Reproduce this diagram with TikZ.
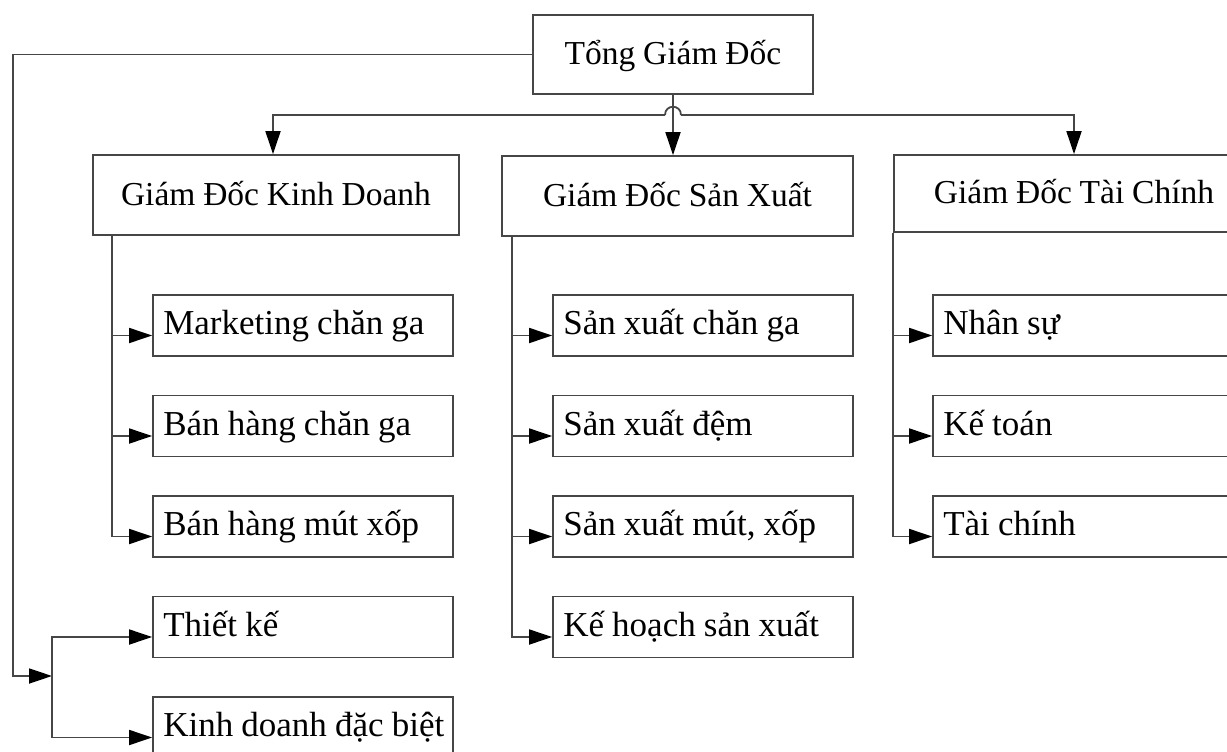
\documentclass[tikz,border=0pt]{standalone}
\usepackage{fontspec}
\setmainfont{Liberation Serif}[WordSpace=0.93]
\usetikzlibrary{arrows.meta,calc}
\definecolor{ln}{RGB}{70,70,70}
\begin{document}
\begin{tikzpicture}[x=1pt,y=-1pt,
  box/.style={draw=ln, line width=1.8pt, fill=white, inner sep=0pt,
    font=\fontsize{33.5}{38}\selectfont, text height=26pt, text depth=6pt},
  mainbox/.style={box, minimum height=80pt},
  subbox/.style={box, minimum height=61pt, minimum width=300pt},
  lbl/.style={inner sep=0pt, anchor=base west, font=\fontsize{35}{42}\selectfont},
  line/.style={ln, line width=1.8pt},
  conn/.style={line, -{Triangle[length=23pt,width=15pt,color=black]}}
]
\useasboundingbox (0,0) rectangle (1227,752);
\fill[white] (0,0) rectangle (1227,752);
\clip (0,0) rectangle (1227,752);

% top and main boxes
\node[mainbox, minimum width=280pt, minimum height=79pt] (top) at (673,54.5) {Tổng Giám Đốc};
\node[mainbox, minimum width=366pt] (gdkd) at (276,195) {Giám Đốc Kinh Doanh};
\node[mainbox, minimum width=351pt] (gdsx) at (677.5,196) {Giám Đốc Sản Xuất};
\node[mainbox, minimum width=360pt, minimum height=77pt] (gdtc) at (1074,193.5) {Giám Đốc Tài Chính};

% unit boxes with left-aligned texts
\foreach \n/\x/\y/\t in {
    mk/303/325.5/{Marketing chăn ga},
    bh1/303/426/{Bán hàng chăn ga},
    bh2/303/526.5/{Bán hàng mút xốp},
    tk/303/627/{Thiết kế},
    kd/303/727.5/{Kinh doanh đặc biệt},
    sx1/703/325.5/{Sản xuất chăn ga},
    sx2/703/426/{Sản xuất đệm},
    sx3/703/526.5/{Sản xuất mút, xốp},
    kh/703/627/{Kế hoạch sản xuất},
    ns/1083/325.5/{Nhân sự},
    kt/1083/426/{Kế toán},
    tc/1083/526.5/{Tài chính}} {
  \node[subbox] (\n) at (\x,\y) {};
  \node[lbl] (\n-t) at ([xshift=11pt,yshift=1pt]\n.base west) {\t};
}

% connectors from the top box
\coordinate (j) at (top.south |- 0,115);
\draw[conn] (top.south) -- (top.south |- gdsx.north);
\draw[line] ([xshift=-8pt]j) .. controls +(0,-11) and +(0,-11) .. ([xshift=8pt]j);
\draw[conn] ([xshift=-8pt]j) -| ([xshift=-3pt]gdkd.north);
\draw[conn] ([xshift=8pt]j) -| (gdtc.north);

% connectors to the units
\foreach \n in {mk,bh1,bh2}
  \draw[conn] ([xshift=20pt]gdkd.south west) |- (\n.base west);
\foreach \n in {sx1,sx2,sx3,kh}
  \draw[conn] ([xshift=11pt]gdsx.south west) |- (\n.base west);
\foreach \n in {ns,kt,tc}
  \draw[conn] (gdtc.south west) |- (\n.base west);

% long connector to the special units
\coordinate (lc) at (13,676);
\coordinate (lj) at (52,676);
\draw[conn] (top.west) -| (lc) -- (lj);
\draw[conn] (lj) |- (tk.base west);
\draw[conn] (lj) |- (kd.base west);
\end{tikzpicture}
\end{document}
